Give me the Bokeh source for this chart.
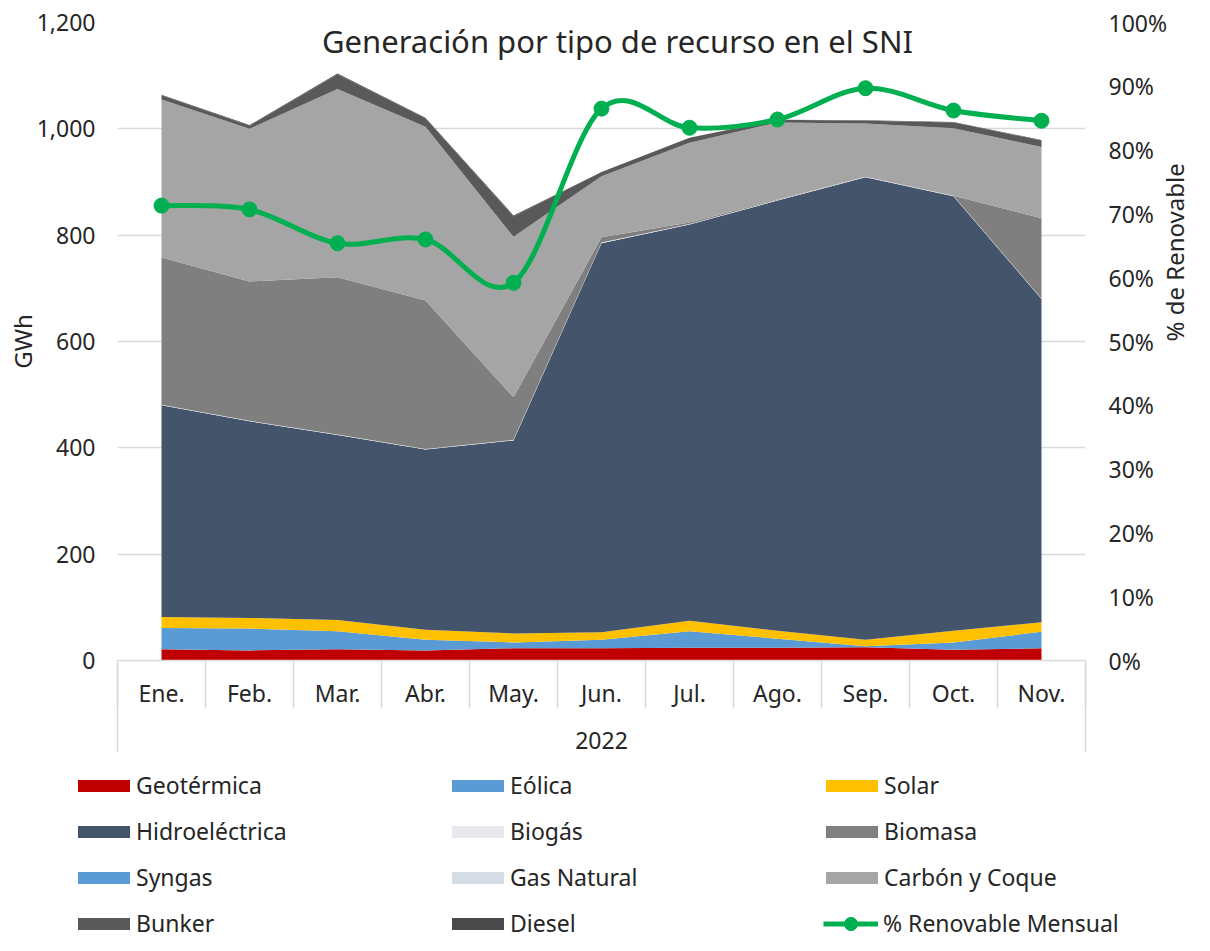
import math
import numpy as np
from bokeh.plotting import figure
from bokeh.layouts import column
from bokeh.models import (ColumnDataSource, Range1d, LinearAxis, FixedTicker,
                          NumeralTickFormatter, Legend, LegendItem, Label)
from bokeh.embed import file_html
from bokeh.resources import INLINE

# ---------------- data ----------------
months = ["Ene.", "Feb.", "Mar.", "Abr.", "May.", "Jun.", "Jul.", "Ago.", "Sep.", "Oct.", "Nov."]
year_label = "2022"

geotermica     = [21, 19, 21, 19, 23, 23, 24, 24, 25, 20, 23]
eolica         = [40, 41, 34, 20, 11, 16, 31, 17, 2, 14, 31]
solar          = [21, 20, 21, 19, 17, 14, 20, 15, 12, 22, 18]
hidroelectrica = [398, 370, 348, 339, 363, 732, 745, 809, 870, 817, 608]
biogas         = [1, 1, 1, 1, 1, 1, 1, 1, 1, 1, 1]
biomasa        = [277, 262, 296, 279, 80, 10, 3, 1, 0, 0, 151]
syngas         = [0, 0, 0, 0, 0, 0, 0, 0, 0, 0, 0]
gas_natural    = [0, 0, 0, 0, 0, 0, 0, 0, 0, 0, 0]
carbon_coque   = [297, 287, 354, 327, 302, 115, 150, 145, 100, 127, 134]
bunker         = [8, 6, 27, 16, 38, 8, 9, 5, 5, 11, 12]
diesel         = [1, 1, 2, 1, 2, 0, 0, 0, 1, 1, 1]

renovable_pct  = [0.713, 0.707, 0.654, 0.660, 0.592, 0.865, 0.835, 0.848, 0.897, 0.862, 0.846]

series_names = ["Geotérmica", "Eólica", "Solar", "Hidroeléctrica", "Biogás", "Biomasa",
                "Syngas", "Gas Natural", "Carbón y Coque", "Bunker", "Diesel"]
series_values = [geotermica, eolica, solar, hidroelectrica, biogas, biomasa,
                 syngas, gas_natural, carbon_coque, bunker, diesel]
series_colors = ["#C00000", "#5B9BD5", "#FFC000", "#44546A", "#E7E9EE", "#7F7F7F",
                 "#5B9BD5", "#D6DCE5", "#A5A5A5", "#595959", "#4A4A4A"]
line_name = "% Renovable Mensual"
GREEN = "#00B050"

FONT = "Noto Sans"
TXT = "#262626"
GRID = "#D9D9D9"

# ---------------- source ----------------
n = len(months)
xc = np.arange(n) + 0.5          # category centres
edges = list(range(n + 1))       # category boundaries
keys = [f"s{i}" for i in range(len(series_names))]
data = {"x": xc, "pct": renovable_pct}
for k, v in zip(keys, series_values):
    data[k] = v
source = ColumnDataSource(data)

# ---------------- main figure ----------------
W = 1210
H_MAIN = 760
H_LEG = 190
p = figure(width=W, height=H_MAIN, x_range=Range1d(0, n), y_range=Range1d(0, 1200),
           output_backend="svg", toolbar_location=None,
           min_border_left=117, min_border_right=125, min_border_top=22, min_border_bottom=100)
p.outline_line_color = None
p.background_fill_color = "white"
p.extra_y_ranges = {"pct": Range1d(0, 1)}

areas = p.varea_stack(stackers=keys, x="x", color=series_colors, source=source)

# smooth (Catmull-Rom style bezier) renewable line
pts = list(zip(xc, renovable_pct))
bx0, by0, bx1, by1, cx0, cy0, cx1, cy1 = [], [], [], [], [], [], [], []
for i in range(n - 1):
    pa = pts[i - 1] if i > 0 else pts[i]
    pb = pts[i]
    pc = pts[i + 1]
    pd = pts[i + 2] if i + 2 < n else pts[i + 1]
    bx0.append(pb[0]); by0.append(pb[1]); bx1.append(pc[0]); by1.append(pc[1])
    cx0.append(pb[0] + (pc[0] - pa[0]) / 6); cy0.append(pb[1] + (pc[1] - pa[1]) / 6)
    cx1.append(pc[0] - (pd[0] - pb[0]) / 6); cy1.append(pc[1] - (pd[1] - pb[1]) / 6)
bez = p.bezier(x0=bx0, y0=by0, x1=bx1, y1=by1, cx0=cx0, cy0=cy0, cx1=cx1, cy1=cy1,
               line_color=GREEN, line_width=5, line_cap="round", y_range_name="pct")
dots = p.scatter("x", "pct", size=15, color=GREEN, y_range_name="pct", source=source)

# ---------------- axes ----------------
p.xgrid.grid_line_color = None
p.ygrid.grid_line_color = GRID
p.ygrid.grid_line_width = 1.5

ya = p.yaxis[0]
ya.ticker = FixedTicker(ticks=list(range(0, 1201, 200)))
ya.formatter = NumeralTickFormatter(format="0,0")
ya.axis_line_color = None
ya.major_tick_line_color = None
ya.major_tick_out = 0
ya.major_tick_in = 0
ya.minor_tick_line_color = None
ya.minor_tick_out = 0
ya.major_label_standoff = 22
ya.major_label_text_font = FONT
ya.major_label_text_font_size = "23px"
ya.major_label_text_color = TXT
ya.axis_label = "GWh"
ya.axis_label_standoff = -5
ya.axis_label_text_font = FONT
ya.axis_label_text_font_size = "24px"
ya.axis_label_text_font_style = "normal"
ya.axis_label_text_color = TXT

ra = LinearAxis(y_range_name="pct", ticker=FixedTicker(ticks=[i / 10 for i in range(11)]),
                formatter=NumeralTickFormatter(format="0%"))
ra.axis_line_color = None
ra.major_tick_line_color = None
ra.major_tick_out = 0
ra.major_tick_in = 0
ra.minor_tick_line_color = None
ra.minor_tick_out = 0
ra.major_label_standoff = 23
ra.major_label_text_font = FONT
ra.major_label_text_font_size = "23px"
ra.major_label_text_color = TXT
ra.axis_label = "% de Renovable"
ra.axis_label_standoff = 4
ra.axis_label_text_font = FONT
ra.axis_label_text_font_size = "24px"
ra.axis_label_text_font_style = "normal"
ra.axis_label_text_color = TXT
try:
    ra.axis_label_orientation = math.pi / 2
except Exception:
    pass
p.add_layout(ra, "right")

xa = p.xaxis[0]
xa.ticker = FixedTicker(ticks=list(xc), minor_ticks=edges)
xa.major_label_overrides = {float(c): m for c, m in zip(xc, months)}
xa.axis_line_color = GRID
xa.axis_line_width = 1.5
xa.major_tick_line_color = None
xa.major_tick_out = 0
xa.major_tick_in = 0
xa.minor_tick_line_color = GRID
xa.minor_tick_line_width = 1.5
xa.minor_tick_in = 0
xa.minor_tick_out = 48
xa.major_label_standoff = -32
xa.major_label_text_font = FONT
xa.major_label_text_font_size = "23px"
xa.major_label_text_color = TXT
xa.axis_label = year_label
xa.axis_label_standoff = 20
xa.axis_label_text_font = FONT
xa.axis_label_text_font_size = "23px"
xa.axis_label_text_font_style = "normal"
xa.axis_label_text_color = TXT

# outer group border lines
xb = LinearAxis(ticker=FixedTicker(ticks=[0, n], minor_ticks=[]))
xb.axis_line_color = None
xb.major_tick_line_color = GRID
xb.major_tick_line_width = 1.5
xb.major_tick_in = 88
xb.major_tick_out = 0
xb.minor_tick_line_color = None
xb.major_label_overrides = {0: "", n: ""}
xb.major_label_text_font_size = "0px"
xb.major_label_standoff = 0
p.add_layout(xb, "below")

# ---------------- title ----------------
p.add_layout(Label(x=n / 2, y=1165, x_offset=20, text="Generación por tipo de recurso en el  SNI",
                   text_font=FONT, text_font_size="31px", text_color=TXT,
                   text_align="center", text_baseline="middle"))

# ---------------- legend figure ----------------
# the same series are drawn here outside the visible range, only to feed the legend glyphs
pl = figure(width=W, height=H_LEG, x_range=Range1d(-30, -29), y_range=Range1d(0, 1),
            output_backend="svg", toolbar_location=None,
            x_axis_location=None, y_axis_location=None,
            min_border_left=0, min_border_right=0, min_border_top=0, min_border_bottom=0)
pl.outline_line_color = None
pl.xgrid.grid_line_color = None
pl.ygrid.grid_line_color = None
for fig in (p, pl):
    try:
        fig.frame_align = False
    except Exception:
        pass

lareas = pl.varea_stack(stackers=keys, x="x", color=series_colors, source=source)
rl = pl.line("x", "pct", line_color=GREEN, line_width=5, source=source)
rs = pl.scatter("x", "pct", size=15, color=GREEN, source=source)

leg_items = [LegendItem(label=nm, renderers=[r]) for nm, r in zip(series_names, lareas)]

ROW_H = 46
leg = Legend(items=leg_items, orientation="horizontal", ncols=3, location=(71, 4),
             glyph_width=65, glyph_height=15, label_width=309, label_height=ROW_H,
             label_standoff=0, spacing=0, padding=0, margin=0,
             border_line_color=None, background_fill_alpha=0,
             label_text_font=FONT, label_text_font_size="23px", label_text_color=TXT)
pl.add_layout(leg)

leg2 = Legend(items=[LegendItem(label=line_name, renderers=[rl, rs])], location=(823, 4),
              glyph_width=55, glyph_height=33, label_height=ROW_H,
              label_standoff=5, spacing=0, padding=0, margin=0,
              border_line_color=None, background_fill_alpha=0,
              label_text_font=FONT, label_text_font_size="23px", label_text_color=TXT)
pl.add_layout(leg2)

layout = column(p, pl, spacing=0)
open("out.html", "w").write(file_html(layout, INLINE))
